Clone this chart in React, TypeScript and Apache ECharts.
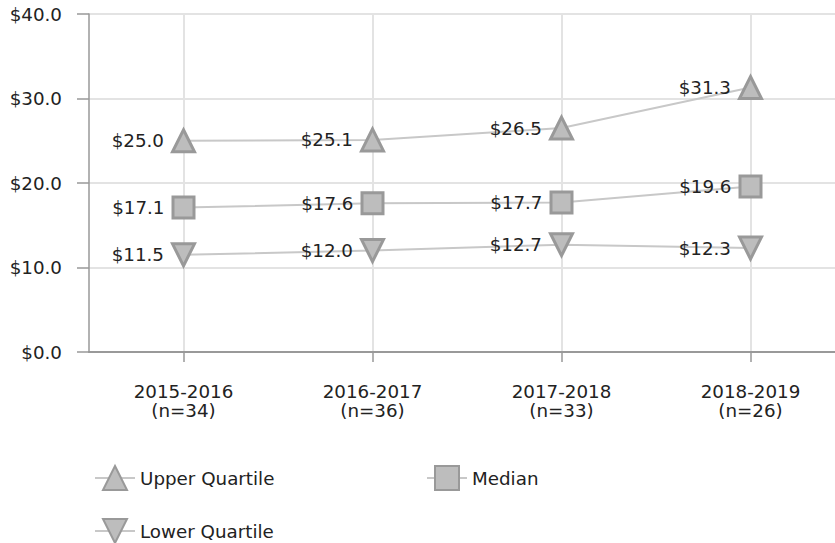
import React, { useEffect, useRef } from "react";
import * as echarts from "echarts";

const categories = ["2015-2016\n(n=34)", "2016-2017\n(n=36)", "2017-2018\n(n=33)", "2018-2019\n(n=26)"];
const upperQuartile = [25.0, 25.1, 26.5, 31.3];
const median = [17.1, 17.6, 17.7, 19.6];
const lowerQuartile = [11.5, 12.0, 12.7, 12.3];
const yTicks = { min: 0, max: 40, interval: 10 };

const FONT = "DejaVu Sans, Verdana, sans-serif";

export default function App() {
  const ref = useRef<HTMLDivElement>(null);
  useEffect(() => {
    if (!ref.current) return;
    const chart = echarts.init(ref.current, undefined, { renderer: "svg" });
    const fmt = (v: number) => "$" + v.toFixed(1);
    const mkSeries = (name: string, data: number[], symbol: string, rotate: number, size: number) => ({
      name,
      type: "line",
      data,
      symbol,
      symbolSize: size,
      symbolRotate: rotate,
      lineStyle: { color: "#c8c8c8", width: 2 },
      itemStyle: { color: "#bdbdbd", borderColor: "#999999", borderWidth: 3 },
      label: {
        show: true,
        position: "left",
        distance: 7,
        formatter: (p: any) => fmt(p.value),
        fontSize: 18.3,
        fontFamily: FONT,
        color: "#222",
      },
      emphasis: { disabled: true },
    });
    const legendBase = {
      itemWidth: 40,
      itemHeight: 30,
      itemGap: 10,
      selectedMode: false,
      textStyle: { fontSize: 18.3, fontFamily: FONT, color: "#222" },
    };
    chart.setOption({
      animation: false,
      textStyle: { fontFamily: FONT },
      grid: { left: 89, width: 756, top: 14, bottom: 191, containLabel: false, outerBoundsMode: "none" } as any,
      legend: [
        { ...legendBase, data: ["Upper Quartile"], left: 89, top: 460 },
        { ...legendBase, data: ["Median"], left: 421, top: 460 },
        { ...legendBase, data: ["Lower Quartile"], left: 89, top: 513 },
      ],
      xAxis: {
        type: "category",
        data: categories,
        boundaryGap: true,
        axisLine: { show: true, lineStyle: { color: "#999", width: 2 } },
        axisTick: { show: true, alignWithLabel: true, length: 10, lineStyle: { color: "#999", width: 1.5 } },
        splitLine: { show: true, alignWithLabel: true, lineStyle: { color: "#e3e3e3", width: 2 } } as any,
        axisLabel: { fontSize: 18.3, fontFamily: FONT, color: "#222", margin: 30, lineHeight: 19 },
      },
      yAxis: {
        type: "value",
        min: yTicks.min,
        max: yTicks.max,
        interval: yTicks.interval,
        axisLine: { show: true, lineStyle: { color: "#999", width: 1.5 } },
        axisTick: { show: true, length: 12, lineStyle: { color: "#999", width: 1.5 } },
        splitLine: { show: true, lineStyle: { color: "#e3e3e3", width: 2 } },
        axisLabel: { fontSize: 18.3, fontFamily: FONT, color: "#222", margin: 27, formatter: (v: number) => fmt(v) },
      },
      series: [
        mkSeries("Upper Quartile", upperQuartile, "triangle", 0, 22),
        mkSeries("Median", median, "rect", 0, 21),
        mkSeries("Lower Quartile", lowerQuartile, "triangle", 180, 22),
      ],
    });
    return () => chart.dispose();
  }, []);
  return <div ref={ref} style={{ width: 835, height: 543, position: "absolute", left: 0, top: 0 }} />;
}
